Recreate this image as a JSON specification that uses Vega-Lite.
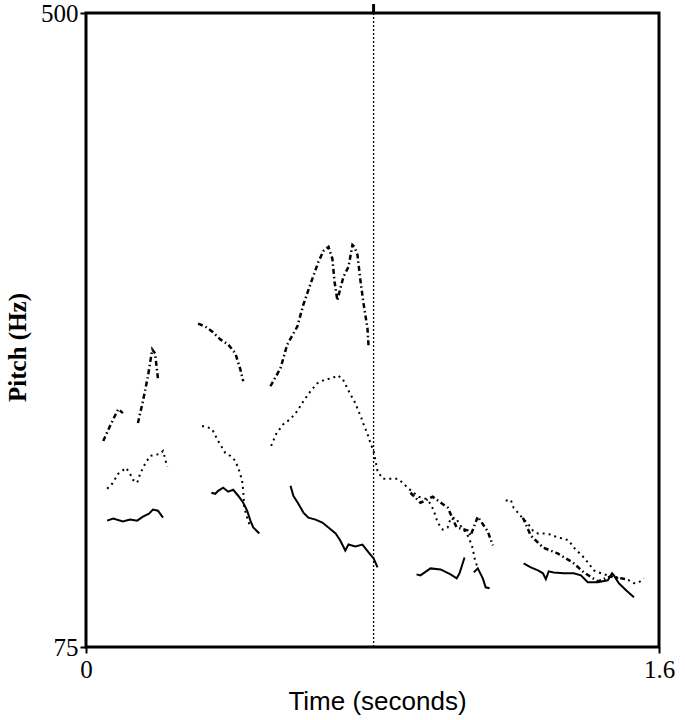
{
  "$schema": "https://vega.github.io/schema/vega-lite/v6.json",
  "width": 573,
  "height": 634,
  "autosize": "none",
  "padding": {"left": 86, "top": 13, "right": 26, "bottom": 73},
  "background": "white",
  "config": {
    "view": {"stroke": "black", "strokeWidth": 3},
    "axis": {
      "domain": false, "grid": false, "tickColor": "black", "tickWidth": 2, "tickSize": 6,
      "labelFont": "Liberation Serif", "labelFontSize": 25, "labelColor": "black", "labelFlush": false,
      "labelOverlap": false, "titleColor": "black"
    }
  },
  "datasets": {
    "pitch": [
      {"s":"dashdot","g":"a1","t":0.048,"p":213.1},{"s":"dashdot","g":"a1","t":0.067,"p":223.1},{"s":"dashdot","g":"a1","t":0.090,"p":234.5},{"s":"dashdot","g":"a1","t":0.103,"p":231.8},
      {"s":"dashdot","g":"a2","t":0.145,"p":225.1},{"s":"dashdot","g":"a2","t":0.159,"p":239.8},{"s":"dashdot","g":"a2","t":0.173,"p":256.5},{"s":"dashdot","g":"a2","t":0.185,"p":274.5},{"s":"dashdot","g":"a2","t":0.193,"p":271.8},{"s":"dashdot","g":"a2","t":0.201,"p":254.5},
      {"s":"dashdot","g":"a3","t":0.313,"p":291.8},{"s":"dashdot","g":"a3","t":0.333,"p":289.8},{"s":"dashdot","g":"a3","t":0.352,"p":286.5},{"s":"dashdot","g":"a3","t":0.375,"p":281.2},{"s":"dashdot","g":"a3","t":0.397,"p":277.8},{"s":"dashdot","g":"a3","t":0.417,"p":271.8},{"s":"dashdot","g":"a3","t":0.431,"p":261.1},{"s":"dashdot","g":"a3","t":0.439,"p":253.1},
      {"s":"dashdot","g":"a4","t":0.515,"p":249.8},{"s":"dashdot","g":"a4","t":0.543,"p":261.8},{"s":"dashdot","g":"a4","t":0.562,"p":277.8},{"s":"dashdot","g":"a4","t":0.590,"p":289.8},{"s":"dashdot","g":"a4","t":0.607,"p":304.5},{"s":"dashdot","g":"a4","t":0.627,"p":318.5},{"s":"dashdot","g":"a4","t":0.649,"p":333.2},{"s":"dashdot","g":"a4","t":0.663,"p":340.5},{"s":"dashdot","g":"a4","t":0.677,"p":343.2},{"s":"dashdot","g":"a4","t":0.688,"p":335.2},{"s":"dashdot","g":"a4","t":0.694,"p":319.9},{"s":"dashdot","g":"a4","t":0.702,"p":307.2},{"s":"dashdot","g":"a4","t":0.710,"p":315.2},{"s":"dashdot","g":"a4","t":0.719,"p":323.2},{"s":"dashdot","g":"a4","t":0.733,"p":329.9},{"s":"dashdot","g":"a4","t":0.744,"p":344.5},{"s":"dashdot","g":"a4","t":0.750,"p":343.2},{"s":"dashdot","g":"a4","t":0.758,"p":337.9},{"s":"dashdot","g":"a4","t":0.766,"p":321.2},{"s":"dashdot","g":"a4","t":0.775,"p":305.2},{"s":"dashdot","g":"a4","t":0.786,"p":288.5},{"s":"dashdot","g":"a4","t":0.789,"p":276.5},
      {"s":"dashdot","g":"a5","t":0.906,"p":178.4},{"s":"dashdot","g":"a5","t":0.934,"p":171.7},{"s":"dashdot","g":"a5","t":0.968,"p":175.7},{"s":"dashdot","g":"a5","t":1.010,"p":168.4},{"s":"dashdot","g":"a5","t":1.035,"p":155.1},{"s":"dashdot","g":"a5","t":1.066,"p":153.1},{"s":"dashdot","g":"a5","t":1.074,"p":149.7},{"s":"dashdot","g":"a5","t":1.094,"p":162.4},{"s":"dashdot","g":"a5","t":1.122,"p":152.4},{"s":"dashdot","g":"a5","t":1.136,"p":143.1},
      {"s":"dashdot","g":"a6","t":1.220,"p":161.7},{"s":"dashdot","g":"a6","t":1.242,"p":149.7},{"s":"dashdot","g":"a6","t":1.276,"p":141.7},{"s":"dashdot","g":"a6","t":1.317,"p":137.7},{"s":"dashdot","g":"a6","t":1.359,"p":131.7},{"s":"dashdot","g":"a6","t":1.390,"p":125.0},{"s":"dashdot","g":"a6","t":1.429,"p":119.0},{"s":"dashdot","g":"a6","t":1.466,"p":122.4},{"s":"dashdot","g":"a6","t":1.508,"p":120.4},
      {"s":"dotted","g":"d1","t":0.059,"p":181.1},{"s":"dotted","g":"d1","t":0.073,"p":184.4},{"s":"dotted","g":"d1","t":0.090,"p":191.1},{"s":"dotted","g":"d1","t":0.112,"p":195.1},{"s":"dotted","g":"d1","t":0.123,"p":191.1},{"s":"dotted","g":"d1","t":0.131,"p":187.1},{"s":"dotted","g":"d1","t":0.143,"p":185.1},{"s":"dotted","g":"d1","t":0.151,"p":191.1},{"s":"dotted","g":"d1","t":0.165,"p":197.8},{"s":"dotted","g":"d1","t":0.179,"p":203.1},{"s":"dotted","g":"d1","t":0.193,"p":203.8},{"s":"dotted","g":"d1","t":0.207,"p":204.4},{"s":"dotted","g":"d1","t":0.215,"p":206.4},{"s":"dotted","g":"d1","t":0.221,"p":201.1},{"s":"dotted","g":"d1","t":0.227,"p":195.8},
      {"s":"dotted","g":"d2","t":0.324,"p":223.1},{"s":"dotted","g":"d2","t":0.338,"p":222.4},{"s":"dotted","g":"d2","t":0.352,"p":221.1},{"s":"dotted","g":"d2","t":0.369,"p":213.1},{"s":"dotted","g":"d2","t":0.389,"p":205.1},{"s":"dotted","g":"d2","t":0.403,"p":203.1},{"s":"dotted","g":"d2","t":0.417,"p":199.8},{"s":"dotted","g":"d2","t":0.428,"p":193.1},{"s":"dotted","g":"d2","t":0.436,"p":186.4},{"s":"dotted","g":"d2","t":0.439,"p":179.7},{"s":"dotted","g":"d2","t":0.442,"p":168.4},{"s":"dotted","g":"d2","t":0.450,"p":161.7},{"s":"dotted","g":"d2","t":0.459,"p":155.1},
      {"s":"dotted","g":"d3","t":0.517,"p":209.8},{"s":"dotted","g":"d3","t":0.531,"p":217.8},{"s":"dotted","g":"d3","t":0.551,"p":224.4},{"s":"dotted","g":"d3","t":0.571,"p":227.8},{"s":"dotted","g":"d3","t":0.590,"p":233.1},{"s":"dotted","g":"d3","t":0.607,"p":239.8},{"s":"dotted","g":"d3","t":0.627,"p":246.5},{"s":"dotted","g":"d3","t":0.646,"p":251.8},{"s":"dotted","g":"d3","t":0.669,"p":254.5},{"s":"dotted","g":"d3","t":0.688,"p":255.1},{"s":"dotted","g":"d3","t":0.702,"p":257.1},{"s":"dotted","g":"d3","t":0.716,"p":255.1},{"s":"dotted","g":"d3","t":0.727,"p":249.8},{"s":"dotted","g":"d3","t":0.738,"p":244.5},{"s":"dotted","g":"d3","t":0.752,"p":238.5},{"s":"dotted","g":"d3","t":0.761,"p":233.1},{"s":"dotted","g":"d3","t":0.769,"p":228.5},{"s":"dotted","g":"d3","t":0.775,"p":224.4},{"s":"dotted","g":"d3","t":0.786,"p":217.8},{"s":"dotted","g":"d3","t":0.794,"p":211.8},{"s":"dotted","g":"d3","t":0.803,"p":206.4},{"s":"dotted","g":"d3","t":0.814,"p":193.1},{"s":"dotted","g":"d3","t":0.828,"p":187.8},{"s":"dotted","g":"d3","t":0.850,"p":187.8},{"s":"dotted","g":"d3","t":0.870,"p":187.8},{"s":"dotted","g":"d3","t":0.884,"p":185.1},{"s":"dotted","g":"d3","t":0.898,"p":181.8},{"s":"dotted","g":"d3","t":0.915,"p":178.4},{"s":"dotted","g":"d3","t":0.929,"p":175.7},{"s":"dotted","g":"d3","t":0.948,"p":174.4},{"s":"dotted","g":"d3","t":0.962,"p":171.1},{"s":"dotted","g":"d3","t":0.971,"p":166.4},{"s":"dotted","g":"d3","t":0.982,"p":158.4},{"s":"dotted","g":"d3","t":0.996,"p":153.7},{"s":"dotted","g":"d3","t":1.010,"p":155.1},{"s":"dotted","g":"d3","t":1.018,"p":161.1},{"s":"dotted","g":"d3","t":1.032,"p":161.7},{"s":"dotted","g":"d3","t":1.046,"p":156.4},{"s":"dotted","g":"d3","t":1.055,"p":153.7},{"s":"dotted","g":"d3","t":1.069,"p":148.4},{"s":"dotted","g":"d3","t":1.080,"p":141.1},{"s":"dotted","g":"d3","t":1.085,"p":134.4},{"s":"dotted","g":"d3","t":1.094,"p":127.7},
      {"s":"dotted","g":"d4","t":1.172,"p":173.1},{"s":"dotted","g":"d4","t":1.186,"p":173.7},{"s":"dotted","g":"d4","t":1.194,"p":168.4},{"s":"dotted","g":"d4","t":1.206,"p":165.1},{"s":"dotted","g":"d4","t":1.220,"p":161.1},{"s":"dotted","g":"d4","t":1.234,"p":157.7},{"s":"dotted","g":"d4","t":1.248,"p":153.1},{"s":"dotted","g":"d4","t":1.262,"p":151.1},{"s":"dotted","g":"d4","t":1.278,"p":151.1},{"s":"dotted","g":"d4","t":1.298,"p":150.4},{"s":"dotted","g":"d4","t":1.317,"p":148.4},{"s":"dotted","g":"d4","t":1.334,"p":147.7},{"s":"dotted","g":"d4","t":1.348,"p":146.4},{"s":"dotted","g":"d4","t":1.362,"p":141.7},{"s":"dotted","g":"d4","t":1.376,"p":138.4},{"s":"dotted","g":"d4","t":1.390,"p":135.0},{"s":"dotted","g":"d4","t":1.404,"p":131.0},{"s":"dotted","g":"d4","t":1.418,"p":126.4},{"s":"dotted","g":"d4","t":1.438,"p":124.4},{"s":"dotted","g":"d4","t":1.457,"p":123.0},{"s":"dotted","g":"d4","t":1.474,"p":121.7},{"s":"dotted","g":"d4","t":1.494,"p":121.0},{"s":"dotted","g":"d4","t":1.516,"p":119.7},{"s":"dotted","g":"d4","t":1.530,"p":117.7},{"s":"dotted","g":"d4","t":1.544,"p":118.4},{"s":"dotted","g":"d4","t":1.558,"p":121.0},
      {"s":"solid","g":"s1","t":0.059,"p":159.7},{"s":"solid","g":"s1","t":0.076,"p":161.1},{"s":"solid","g":"s1","t":0.103,"p":159.1},{"s":"solid","g":"s1","t":0.123,"p":160.4},{"s":"solid","g":"s1","t":0.143,"p":159.7},{"s":"solid","g":"s1","t":0.159,"p":162.4},{"s":"solid","g":"s1","t":0.176,"p":164.4},{"s":"solid","g":"s1","t":0.187,"p":167.1},{"s":"solid","g":"s1","t":0.201,"p":166.4},{"s":"solid","g":"s1","t":0.215,"p":161.7},
      {"s":"solid","g":"s2","t":0.350,"p":178.4},{"s":"solid","g":"s2","t":0.361,"p":177.7},{"s":"solid","g":"s2","t":0.369,"p":179.7},{"s":"solid","g":"s2","t":0.383,"p":181.8},{"s":"solid","g":"s2","t":0.397,"p":179.1},{"s":"solid","g":"s2","t":0.411,"p":180.4},{"s":"solid","g":"s2","t":0.425,"p":176.4},{"s":"solid","g":"s2","t":0.439,"p":171.7},{"s":"solid","g":"s2","t":0.450,"p":166.4},{"s":"solid","g":"s2","t":0.459,"p":159.7},{"s":"solid","g":"s2","t":0.467,"p":155.1},{"s":"solid","g":"s2","t":0.484,"p":151.1},
      {"s":"solid","g":"s3","t":0.571,"p":183.1},{"s":"solid","g":"s3","t":0.579,"p":176.4},{"s":"solid","g":"s3","t":0.593,"p":171.1},{"s":"solid","g":"s3","t":0.607,"p":165.1},{"s":"solid","g":"s3","t":0.621,"p":161.7},{"s":"solid","g":"s3","t":0.641,"p":160.4},{"s":"solid","g":"s3","t":0.660,"p":158.4},{"s":"solid","g":"s3","t":0.677,"p":155.1},{"s":"solid","g":"s3","t":0.697,"p":151.1},{"s":"solid","g":"s3","t":0.710,"p":146.4},{"s":"solid","g":"s3","t":0.724,"p":139.7},{"s":"solid","g":"s3","t":0.733,"p":143.7},{"s":"solid","g":"s3","t":0.752,"p":142.4},{"s":"solid","g":"s3","t":0.772,"p":143.7},{"s":"solid","g":"s3","t":0.789,"p":138.4},{"s":"solid","g":"s3","t":0.803,"p":134.4},{"s":"solid","g":"s3","t":0.814,"p":128.4},
      {"s":"solid","g":"s4","t":0.923,"p":123.7},{"s":"solid","g":"s4","t":0.934,"p":123.0},{"s":"solid","g":"s4","t":0.962,"p":127.7},{"s":"solid","g":"s4","t":0.990,"p":127.0},{"s":"solid","g":"s4","t":1.018,"p":123.7},{"s":"solid","g":"s4","t":1.035,"p":121.0},{"s":"solid","g":"s4","t":1.043,"p":124.4},{"s":"solid","g":"s4","t":1.057,"p":135.0},
      {"s":"solid","g":"s5","t":1.083,"p":125.0},{"s":"solid","g":"s5","t":1.094,"p":127.7},{"s":"solid","g":"s5","t":1.108,"p":121.0},{"s":"solid","g":"s5","t":1.116,"p":115.0},{"s":"solid","g":"s5","t":1.127,"p":114.4},
      {"s":"solid","g":"s6","t":1.222,"p":131.0},{"s":"solid","g":"s6","t":1.242,"p":128.4},{"s":"solid","g":"s6","t":1.262,"p":126.4},{"s":"solid","g":"s6","t":1.276,"p":124.4},{"s":"solid","g":"s6","t":1.284,"p":120.4},{"s":"solid","g":"s6","t":1.292,"p":125.7},{"s":"solid","g":"s6","t":1.306,"p":125.0},{"s":"solid","g":"s6","t":1.334,"p":124.4},{"s":"solid","g":"s6","t":1.362,"p":124.4},{"s":"solid","g":"s6","t":1.382,"p":123.0},{"s":"solid","g":"s6","t":1.401,"p":118.4},{"s":"solid","g":"s6","t":1.429,"p":118.4},{"s":"solid","g":"s6","t":1.457,"p":119.7},{"s":"solid","g":"s6","t":1.469,"p":124.4},{"s":"solid","g":"s6","t":1.474,"p":123.0},{"s":"solid","g":"s6","t":1.488,"p":117.7},{"s":"solid","g":"s6","t":1.508,"p":113.0},{"s":"solid","g":"s6","t":1.530,"p":108.4}
    ],
    "cursor": [{"t": 0.803, "p1": 500, "p2": 506}]
  },
  "encoding": {
    "x": {
      "field": "t", "type": "quantitative",
      "scale": {"domain": [0, 1.6], "nice": false, "zero": false},
      "axis": {
        "values": [0, 1.6], "format": ".1~f", "labelPadding": 4, "title": "Time (seconds)",
        "titleFont": "Liberation Sans", "titleFontSize": 26, "titleFontWeight": "normal",
        "titleX": 291, "titleY": 62, "titleBaseline": "alphabetic", "titleAlign": "center"
      }
    }
  },
  "layer": [
    {
      "data": {"name": "cursor"},
      "mark": {"type": "rule", "color": "black", "strokeWidth": 1.3, "strokeDash": [2, 2]},
      "encoding": {}
    },
    {
      "data": {"name": "cursor"},
      "mark": {"type": "rule", "color": "black", "strokeWidth": 3},
      "encoding": {
        "y": {"field": "p1", "type": "quantitative", "scale": {"domain": [75, 500], "nice": false, "zero": false},
          "axis": {"values": [75, 500], "labelPadding": 2, "title": "Pitch (Hz)", "titleFont": "Liberation Serif", "titleFontSize": 25, "titleFontWeight": "bold", "titleAngle": 270, "titleX": -61, "titleY": 334, "titleBaseline": "alphabetic", "titleAlign": "center"}},
        "y2": {"field": "p2"}
      }
    },
    {
      "data": {"name": "pitch"},
      "transform": [{"filter": "datum.s === 'solid'"}],
      "mark": {"type": "line", "color": "black", "strokeWidth": 2},
      "encoding": {
        "y": {"field": "p", "type": "quantitative", "scale": {"domain": [75, 500], "nice": false, "zero": false},
          "axis": {"values": [75, 500], "labelPadding": 2, "title": "Pitch (Hz)", "titleFont": "Liberation Serif", "titleFontSize": 25, "titleFontWeight": "bold", "titleAngle": 270, "titleX": -61, "titleY": 334, "titleBaseline": "alphabetic", "titleAlign": "center"}},
        "detail": {"field": "g"}
      }
    },
    {
      "data": {"name": "pitch"},
      "transform": [{"filter": "datum.s === 'dotted'"}],
      "mark": {"type": "line", "color": "black", "strokeWidth": 2, "strokeDash": [2, 4]},
      "encoding": {
        "y": {"field": "p", "type": "quantitative", "scale": {"domain": [75, 500], "nice": false, "zero": false},
          "axis": {"values": [75, 500], "labelPadding": 2, "title": "Pitch (Hz)", "titleFont": "Liberation Serif", "titleFontSize": 25, "titleFontWeight": "bold", "titleAngle": 270, "titleX": -61, "titleY": 334, "titleBaseline": "alphabetic", "titleAlign": "center"}},
        "detail": {"field": "g"}
      }
    },
    {
      "data": {"name": "pitch"},
      "transform": [{"filter": "datum.s === 'dashdot'"}],
      "mark": {"type": "line", "color": "black", "strokeWidth": 2.5, "strokeDash": [5, 3, 1.5, 3]},
      "encoding": {
        "y": {"field": "p", "type": "quantitative", "scale": {"domain": [75, 500], "nice": false, "zero": false},
          "axis": {"values": [75, 500], "labelPadding": 2, "title": "Pitch (Hz)", "titleFont": "Liberation Serif", "titleFontSize": 25, "titleFontWeight": "bold", "titleAngle": 270, "titleX": -61, "titleY": 334, "titleBaseline": "alphabetic", "titleAlign": "center"}},
        "detail": {"field": "g"}
      }
    }
  ]
}
